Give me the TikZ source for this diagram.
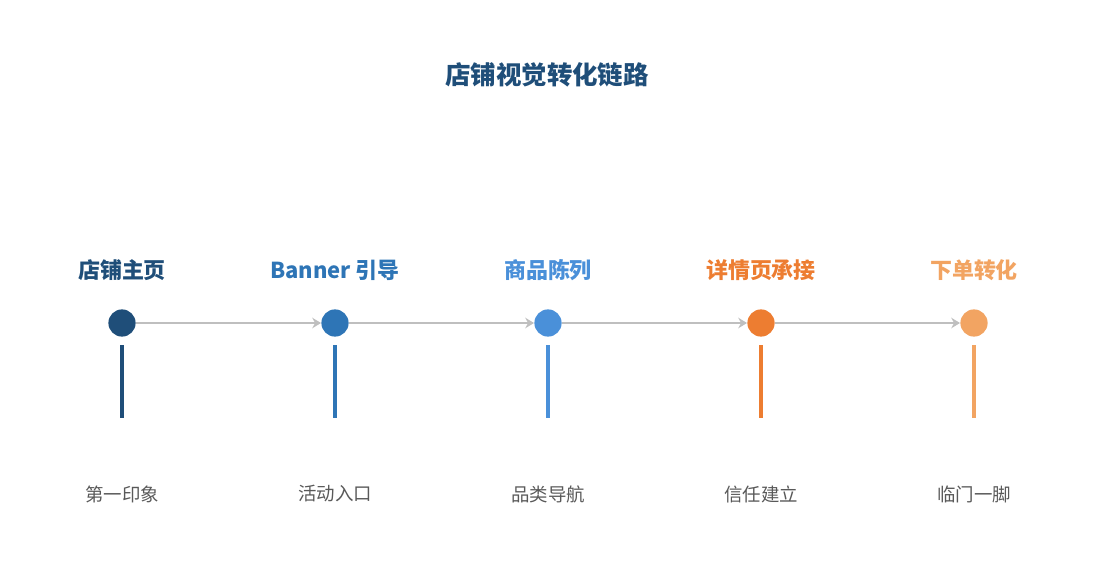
\documentclass[tikz,border=0pt]{standalone}
\usepackage{fontspec}
\setmainfont{Noto Sans CJK SC}
\usetikzlibrary{arrows.meta}
\definecolor{cA}{HTML}{1F4E79}
\definecolor{cB}{HTML}{2E75B6}
\definecolor{cC}{HTML}{4A90D9}
\definecolor{cD}{HTML}{ED7D31}
\definecolor{cE}{HTML}{F2A462}
\definecolor{linkgray}{HTML}{BFBFBF}
\definecolor{subgray}{HTML}{595959}
\tikzset{
  dot/.style={circle, fill=#1, minimum size=15.5pt, inner sep=0pt},
  head/.style={text=#1, font=\bfseries\fontsize{12.5}{14}\selectfont},
  sub/.style={text=subgray, font=\fontsize{10.5}{12}\selectfont},
  stem/.style={draw=#1, line width=2.2pt},
  link/.style={draw=linkgray, line width=1.6pt, -{Stealth[length=5pt,width=6pt]}}
}
\begin{document}
\begin{tikzpicture}[x=0.02cm, y=-0.02cm]
\useasboundingbox (0,0) rectangle (1095,585);
\node[text=cA, font=\bfseries\fontsize{14.5}{17}\selectfont] (title) at (547,75) {店铺视觉转化链路};

\foreach \i/\x/\c/\h/\s in {1/122/cA/店铺主页/第一印象, 2/335/cB/Banner 引导/活动入口,
  3/548/cC/商品陈列/品类导航, 4/761/cD/详情页承接/信任建立, 5/974/cE/下单转化/临门一脚}{
  \node[dot=\c] (n\i) at (\x,323) {};
  \node[head=\c] (h\i) at (\x,270) {\h};
  \node[sub] (s\i) at (\x,494) {\s};
  \coordinate (a\i) at (\x,345);
  \coordinate (b\i) at (\x,418);
  \draw[stem=\c] (a\i) -- (b\i);
}
\foreach \i/\j in {1/2, 2/3, 3/4, 4/5}
  \draw[link] (n\i) -- (n\j);
\end{tikzpicture}
\end{document}
